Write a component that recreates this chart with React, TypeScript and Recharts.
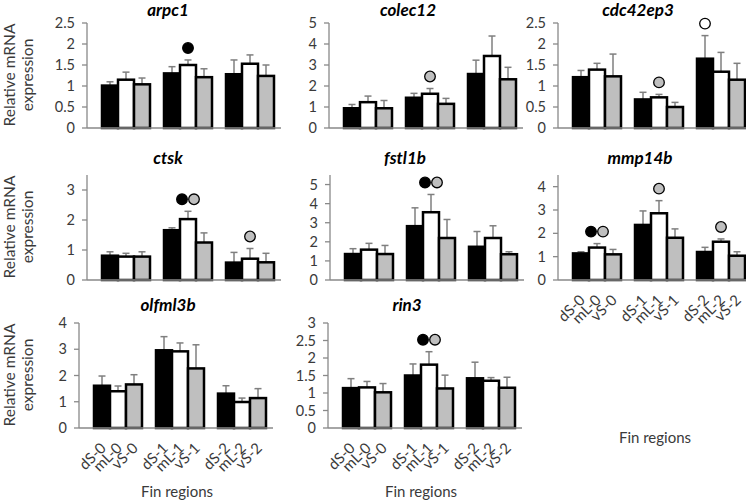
import { BarChart, Bar, XAxis, YAxis } from "recharts";

const groups = ["0", "1", "2"];
const series = [
  { key: "dS", fill: "#000000" },
  { key: "mL", fill: "#ffffff" },
  { key: "vS", fill: "#bfbfbf" },
];

// each row is one fin region group: [dS, mL, vS]
const arpc1Mean = [[1.01, 1.15, 1.04], [1.3, 1.5, 1.21], [1.28, 1.53, 1.24]];
const arpc1Err = [[0.09, 0.18, 0.15], [0.16, 0.12, 0.2], [0.34, 0.21, 0.26]];
const arpc1Marks = [{ group: 1, series: "mL", dots: ["black"] }];

const colec12Mean = [[0.94, 1.23, 0.94], [1.44, 1.63, 1.15], [2.57, 3.43, 2.32]];
const colec12Err = [[0.18, 0.29, 0.37], [0.21, 0.25, 0.26], [0.66, 0.95, 0.57]];
const colec12Marks = [{ group: 1, series: "mL", dots: ["gray"] }];

const cdc42ep3Mean = [[1.21, 1.39, 1.23], [0.68, 0.73, 0.5], [1.65, 1.34, 1.15]];
const cdc42ep3Err = [[0.16, 0.15, 0.53], [0.17, 0.07, 0.11], [0.55, 0.46, 0.39]];
const cdc42ep3Marks = [
  { group: 1, series: "mL", dots: ["gray"] },
  { group: 2, series: "dS", dots: ["open"] },
];

const ctskMean = [[0.81, 0.78, 0.78], [1.66, 2.03, 1.25], [0.58, 0.71, 0.59]];
const ctskErr = [[0.13, 0.11, 0.16], [0.08, 0.26, 0.32], [0.34, 0.34, 0.3]];
const ctskMarks = [
  { group: 1, series: "mL", dots: ["black", "gray"] },
  { group: 2, series: "mL", dots: ["gray"] },
];

const fstl1bMean = [[1.36, 1.59, 1.36], [2.82, 3.55, 2.2], [1.74, 2.2, 1.35]];
const fstl1bErr = [[0.28, 0.33, 0.45], [0.96, 0.93, 0.97], [0.8, 0.64, 0.13]];
const fstl1bMarks = [{ group: 1, series: "mL", dots: ["black", "gray"] }];

const mmp14bMean = [[1.14, 1.39, 1.1], [2.36, 2.86, 1.81], [1.2, 1.64, 1.04]];
const mmp14bErr = [[0.07, 0.17, 0.21], [0.6, 0.54, 0.38], [0.2, 0.12, 0.17]];
const mmp14bMarks = [
  { group: 0, series: "mL", dots: ["black", "gray"] },
  { group: 1, series: "mL", dots: ["gray"] },
  { group: 2, series: "mL", dots: ["gray"] },
];

const olfml3bMean = [[1.61, 1.4, 1.66], [2.96, 2.92, 2.27], [1.31, 0.99, 1.14]];
const olfml3bErr = [[0.37, 0.2, 0.37], [0.52, 0.32, 0.9], [0.3, 0.15, 0.36]];
const olfml3bMarks = [];

const rin3Mean = [[1.14, 1.16, 1.02], [1.5, 1.81, 1.13], [1.42, 1.35, 1.15]];
const rin3Err = [[0.27, 0.17, 0.25], [0.33, 0.37, 0.38], [0.46, 0.09, 0.3]];
const rin3Marks = [{ group: 1, series: "mL", dots: ["black", "gray"] }];

const ticksHalf25 = [0, 0.5, 1, 1.5, 2, 2.5];
const ticksHalf3 = [0, 0.5, 1, 1.5, 2, 2.5, 3];
const ticks3 = [0, 1, 2, 3];
const ticks4 = [0, 1, 2, 3, 4];
const ticks5 = [0, 1, 2, 3, 4, 5];

const panels = [
  { title: "arpc1", mean: arpc1Mean, err: arpc1Err, marks: arpc1Marks, yMax: 2.5, ticks: ticksHalf25, axisX: 87, plotTop: 23, titleX: 168, titleY: 9 },
  { title: "colec12", mean: colec12Mean, err: colec12Err, marks: colec12Marks, yMax: 5, ticks: ticks5, axisX: 329, plotTop: 23, titleX: 408, titleY: 9 },
  { title: "cdc42ep3", mean: cdc42ep3Mean, err: cdc42ep3Err, marks: cdc42ep3Marks, yMax: 2.5, ticks: ticksHalf25, axisX: 558, plotTop: 23, titleX: 638, titleY: 9 },
  { title: "ctsk", mean: ctskMean, err: ctskErr, marks: ctskMarks, yMax: 3.5, ticks: ticks3, axisX: 87, plotTop: 175, titleX: 168, titleY: 157 },
  { title: "fstl1b", mean: fstl1bMean, err: fstl1bErr, marks: fstl1bMarks, yMax: 5.5, ticks: ticks5, axisX: 330, plotTop: 175, titleX: 405, titleY: 157 },
  { title: "mmp14b", mean: mmp14bMean, err: mmp14bErr, marks: mmp14bMarks, yMax: 4.5, ticks: ticks4, axisX: 558, plotTop: 175, titleX: 640, titleY: 157, finX: 655, finY: 437 },
  { title: "olfml3b", mean: olfml3bMean, err: olfml3bErr, marks: olfml3bMarks, yMax: 4, ticks: ticks4, axisX: 79, plotTop: 323, titleX: 168, titleY: 304, finX: 177, finY: 491 },
  { title: "rin3", mean: rin3Mean, err: rin3Err, marks: rin3Marks, yMax: 3, ticks: ticksHalf3, axisX: 328, plotTop: 323, titleX: 407, titleY: 304, finX: 421, finY: 491 },
];

const rowCenters = [75, 227, 375];

const PLOT_H = 105;
const BAR = 16;
const AXIS_W = 42;
const PAD_L = 8;
const PLOT_W = 186;
const TOP_M = 12;
const axisColor = "#898989";
const textColor = "#3a3a3a";
const dotFill = { black: "#000000", gray: "#bfbfbf", open: "#ffffff" };

function buildData(mean, err, marks) {
  return groups.map((g, gi) => {
    const row = { group: g };
    series.forEach((s, si) => {
      row[s.key] = mean[gi][si];
      row[s.key + "Err"] = err[gi][si];
      row[s.key + "Marks"] = marks
        .filter((m) => m.group === gi && m.series === s.key)
        .flatMap((m) => m.dots);
    });
    return row;
  });
}

function BarWithError(props) {
  const { x, y, width, height, fill, payload, sKey } = props;
  const mean = payload[sKey];
  const k = height / mean;
  const cx = x + width / 2;
  const top = y - payload[sKey + "Err"] * k;
  const dots = payload[sKey + "Marks"];
  return (
    <g>
      <line x1={cx} x2={cx} y1={y} y2={top} stroke="#7f7f7f" strokeWidth={1.5} />
      <line x1={cx - 3.5} x2={cx + 3.5} y1={top} y2={top} stroke="#7f7f7f" strokeWidth={1.5} />
      <rect x={x} y={y} width={width} height={height} fill={fill} stroke="#000" strokeWidth={2.5} />
      {dots.map((d, i) => (
        <circle
          key={i}
          cx={cx + (i - (dots.length - 1) / 2) * 12}
          cy={top - 12}
          r={5.3}
          fill={dotFill[d]}
          stroke="#000"
          strokeWidth={1.3}
        />
      ))}
    </g>
  );
}

function RegionTick(props) {
  const { x, y, payload } = props;
  return (
    <g>
      {series.map((s, i) => {
        const tx = x + (i - 1) * BAR + 5;
        const ty = y + 13;
        return (
          <text
            key={s.key}
            x={tx}
            y={ty}
            textAnchor="end"
            fontSize={15}
            fill={textColor}
            transform={`rotate(-45 ${tx} ${ty})`}
          >
            {`${s.key}-${payload.value}`}
          </text>
        );
      })}
    </g>
  );
}

function Panel({ p }) {
  const data = buildData(p.mean, p.err, p.marks);
  const labeled = p.finY !== undefined;
  const xh = labeled ? 62 : 12;
  return (
    <div style={{ position: "absolute", left: p.axisX - AXIS_W, top: p.plotTop - TOP_M }}>
      <BarChart
        width={AXIS_W + PAD_L + PLOT_W + 2}
        height={TOP_M + PLOT_H + xh}
        data={data}
        margin={{ top: TOP_M, right: 2, left: 0, bottom: 0 }}
        barGap={0}
        barSize={BAR}
      >
        <XAxis
          dataKey="group"
          padding={{ left: PAD_L, right: 0 }}
          tickLine={false}
          axisLine={{ stroke: axisColor, strokeWidth: 1.3 }}
          tick={labeled ? <RegionTick /> : false}
          height={xh}
          interval={0}
        />
        <YAxis
          domain={[0, p.yMax]}
          ticks={p.ticks}
          interval={0}
          width={AXIS_W}
          tickSize={5}
          tickMargin={7}
          axisLine={{ stroke: axisColor, strokeWidth: 1.3 }}
          tickLine={{ stroke: axisColor, strokeWidth: 1.3 }}
          tick={{ fill: textColor, fontSize: 14.5 }}
        />
        {series.map((s) => (
          <Bar
            key={s.key}
            dataKey={s.key}
            fill={s.fill}
            isAnimationActive={false}
            shape={(bp) => <BarWithError {...bp} sKey={s.key} fill={s.fill} />}
          />
        ))}
      </BarChart>
    </div>
  );
}

export default function App() {
  return (
    <div
      style={{
        position: "absolute",
        left: 0,
        top: 0,
        width: 746,
        height: 500,
        overflow: "hidden",
        background: "#fff",
        fontFamily: "Lato, sans-serif",
        color: textColor,
      }}
    >
      {panels.map((p) => (
        <Panel key={p.title} p={p} />
      ))}
      {panels.map((p) => (
        <div
          key={p.title + "t"}
          style={{
            position: "absolute",
            left: p.titleX,
            top: p.titleY,
            transform: "translate(-50%, -50%)",
            fontSize: 17,
            fontWeight: 700,
            fontStyle: "italic",
            color: "#000",
            whiteSpace: "nowrap",
          }}
        >
          {p.title}
        </div>
      ))}
      {panels
        .filter((p) => p.finY !== undefined)
        .map((p) => (
          <div
            key={p.title + "f"}
            style={{
              position: "absolute",
              left: p.finX,
              top: p.finY,
              transform: "translate(-50%, -50%)",
              fontSize: 15,
              whiteSpace: "nowrap",
            }}
          >
            Fin regions
          </div>
        ))}
      {rowCenters.map((cy) => (
        <div
          key={cy}
          style={{
            position: "absolute",
            left: 18,
            top: cy,
            width: 140,
            transform: "translate(-50%, -50%) rotate(-90deg)",
            textAlign: "center",
            fontSize: 15.5,
            lineHeight: "18px",
          }}
        >
          Relative mRNA
          <br />
          expression
        </div>
      ))}
    </div>
  );
}
